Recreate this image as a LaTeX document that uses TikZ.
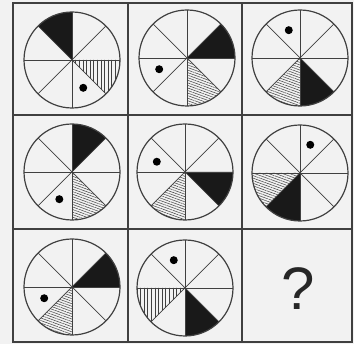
\documentclass[tikz,border=0pt]{standalone}
\usepackage{fontspec}
\setsansfont{Liberation Sans}
\usetikzlibrary{patterns.meta}

\definecolor{paper}{gray}{0.95}
\definecolor{ink}{gray}{0.25}

\tikzset{
  vhatch/.style={pattern={Lines[angle=90, distance=3.6pt, line width=0.6pt]}, pattern color=ink},
  shatch/.style={pattern={Lines[angle=-20, distance=2.4pt, line width=0.5pt]}, pattern color=ink}
}

% one wheel: centre, black sector, hatched sector, hatch style, dot angle
\newcommand{\wheel}[5]{%
  \begin{scope}[shift={#1}]
    \fill[black!90] (0,0) -- (#2:48pt) arc[start angle=#2, delta angle=45, radius=48pt] -- cycle;
    \fill[#4] (0,0) -- (#3:48pt) arc[start angle=#3, delta angle=45, radius=48pt] -- cycle;
    \foreach \a in {0,45,90,135}
      \draw[ink, line width=0.7pt] (\a:48pt) -- (\a+180:48pt);
    \draw[ink, line width=1.2pt] (0,0) circle (48pt);
    \fill (#5:30pt) circle (4pt);
  \end{scope}}

\begin{document}
\begin{tikzpicture}[x=1pt, y=1pt]
  \useasboundingbox (0,0) rectangle (354,344);
  \fill[paper] (0,0) rectangle (354,344);
  % grid
  \draw[ink, line width=1.6pt] (13,2) rectangle (352,341);
  \draw[ink, line width=1.6pt] (128,2) -- (128,341);
  \draw[ink, line width=1.6pt] (242,2) -- (242,341);
  \draw[ink, line width=1.6pt] (13,229) -- (352,229);
  \draw[ink, line width=1.6pt] (13,115) -- (352,115);
  % row 1
  \wheel{(72,284)}{90}{315}{vhatch}{292}
  \wheel{(187,286)}{0}{270}{shatch}{202}
  \wheel{(300,286)}{270}{225}{shatch}{112}
  % row 2
  \wheel{(72,172)}{45}{270}{shatch}{245}
  \wheel{(185,172)}{315}{225}{shatch}{160}
  \wheel{(300,171)}{225}{180}{shatch}{70}
  % row 3
  \wheel{(72,57)}{0}{225}{shatch}{202}
  \wheel{(185,56)}{270}{180}{vhatch}{112}
  \node[font=\sffamily\fontsize{60}{60}\selectfont, text=black!85] (ask) at (298,55) {?};
\end{tikzpicture}
\end{document}
